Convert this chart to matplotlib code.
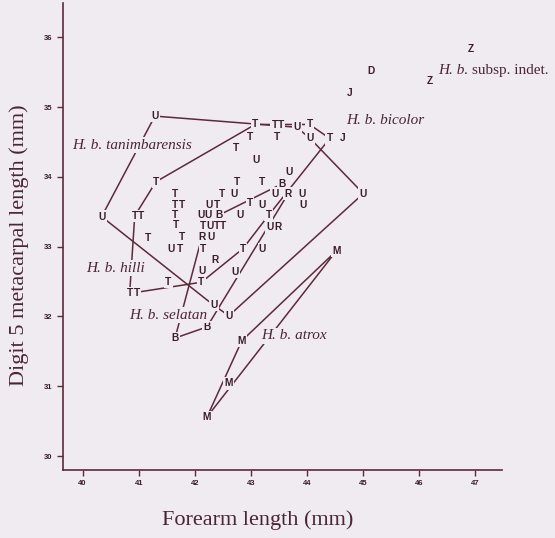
import matplotlib.pyplot as plt

# specimen codes and measurements (mm)
codes = ['Z', 'D', 'Z', 'J', 'J',
         'U', 'T', 'T', 'T', 'U', 'T', 'T', 'T', 'U', 'T', 'T', 'U', 'U',
         'T', 'T', 'T', 'B', 'T', 'T', 'U', 'U', 'R', 'U', 'U',
         'T', 'T', 'U', 'T', 'T', 'U', 'U',
         'U', 'T', 'T', 'T', 'U', 'U', 'B', 'U', 'T',
         'T', 'T', 'U', 'T', 'T', 'U', 'R',
         'T', 'T', 'R', 'U',
         'U', 'T', 'T', 'T', 'U', 'R', 'U', 'U', 'T', 'T', 'T', 'T',
         'U', 'U', 'B', 'B', 'M', 'M', 'M', 'M']
forearm = [46.93, 45.14, 46.19, 44.77, 44.64,
           41.29, 43.08, 43.43, 43.54, 43.82, 44.05, 42.99, 43.47, 44.06, 44.41, 42.73, 43.09, 43.68,
           41.31, 42.75, 43.21, 43.56, 41.65, 42.48, 42.70, 43.43, 43.67, 43.91, 45.01,
           41.65, 41.77, 42.25, 42.39, 42.99, 43.21, 43.93,
           40.34, 40.93, 41.04, 41.65, 42.12, 42.24, 42.43, 42.81, 43.32,
           41.66, 42.15, 42.27, 42.40, 42.50, 43.34, 43.48,
           41.17, 41.77, 42.13, 42.29,
           41.58, 41.74, 42.15, 42.86, 43.21, 42.36, 42.13, 42.72, 41.53, 42.12, 40.84, 40.97,
           42.34, 42.61, 42.22, 41.65, 44.53, 42.84, 42.60, 42.22]
digit5 = [35.83, 35.52, 35.37, 35.20, 34.55,
          34.87, 34.75, 34.74, 34.74, 34.71, 34.75, 34.57, 34.57, 34.55, 34.55, 34.41, 34.24, 34.07,
          33.93, 33.92, 33.92, 33.90, 33.76, 33.76, 33.76, 33.76, 33.76, 33.76, 33.76,
          33.60, 33.60, 33.60, 33.60, 33.62, 33.60, 33.60,
          33.43, 33.44, 33.44, 33.45, 33.45, 33.45, 33.45, 33.45, 33.45,
          33.31, 33.30, 33.30, 33.30, 33.30, 33.28, 33.28,
          33.13, 33.14, 33.14, 33.14,
          32.96, 32.96, 32.96, 32.97, 32.97, 32.81, 32.65, 32.64, 32.50, 32.49, 32.33, 32.33,
          32.16, 32.01, 31.85, 31.69, 32.94, 31.65, 31.04, 30.56]

# outlines around groups
u_hull_x = [41.29, 43.82, 44.06, 45.01, 42.61, 42.34, 40.34]
u_hull_y = [34.87, 34.71, 34.55, 33.76, 32.01, 32.16, 33.43]
t_hull_x = [41.31, 43.08, 44.05, 44.41, 43.32, 42.86, 42.12, 40.84, 40.93]
t_hull_y = [33.93, 34.75, 34.75, 34.55, 33.45, 32.97, 32.49, 32.33, 33.44]
b_hull_x = [41.65, 42.13, 42.43, 43.56, 43.67, 42.22]
b_hull_y = [31.69, 33.14, 33.45, 33.90, 33.76, 31.85]
m_hull_x = [44.53, 42.84, 42.22]
m_hull_y = [32.94, 31.65, 30.56]

# taxon labels
label_names = ['tanimbarensis', 'hilli', 'selatan', 'atrox', 'bicolor']
label_x = [39.81, 40.06, 40.84, 43.18, 44.70]
label_y = [34.455, 32.69, 32.02, 31.72, 34.81]

bg = '#efebf0'
line_col = '#5c2a3a'
ink = '#3a1c2a'
txt = '#4a2635'

fig = plt.figure(figsize=(5.55, 5.38), dpi=100, facecolor=bg)
ax = fig.add_axes([0.1135, 0.1264, 0.7905, 0.868], facecolor=bg)

for hx, hy in [(u_hull_x, u_hull_y), (t_hull_x, t_hull_y),
               (b_hull_x, b_hull_y), (m_hull_x, m_hull_y)]:
    ax.plot(hx + hx[:1], hy + hy[:1], color=line_col, lw=1.1, zorder=2)

# letters: first a pass of masks, then the glyphs on top
for c, x, y in zip(codes, forearm, digit5):
    ax.text(x, y, c, color=bg, fontsize=7.3, fontweight='bold', family='Liberation Sans',
            ha='center', va='center', zorder=3,
            bbox=dict(boxstyle='square,pad=0.12', fc=bg, ec='none'))
for c, x, y in zip(codes, forearm, digit5):
    ax.text(x, y, c, color=ink, fontsize=7.3, fontweight='bold', family='Liberation Sans',
            ha='center', va='center', zorder=4)

for name, x, y in zip(label_names, label_x, label_y):
    ax.text(x, y, 'H. b. ' + name, color=txt, fontsize=11, style='italic',
            family='Liberation Serif', ha='left', va='center', zorder=5,
            bbox=dict(boxstyle='square,pad=0.1', fc=bg, ec='none'))

t1 = ax.text(46.34, 35.53, 'H. b.', color=txt, fontsize=11, style='italic',
             family='Liberation Serif', ha='left', va='center', zorder=5)
ax.annotate('subsp. indet.', xy=(1, 0), xycoords=t1, xytext=(3, 0), textcoords='offset points',
            color=txt, fontsize=11, family='Liberation Serif', ha='left', va='bottom')

ax.set_xlim(39.65, 47.48)
ax.set_ylim(29.8, 36.49)
ax.set_xticks(range(40, 48))
ax.set_yticks(range(30, 37))
ax.tick_params(direction='out', length=4.5, width=1, color=line_col, labelsize=5.5,
               labelcolor=ink, pad=3)
for lab in ax.get_xticklabels() + ax.get_yticklabels():
    lab.set_fontweight('bold')
    lab.set_family('Liberation Sans')
for s in ['top', 'right']:
    ax.spines[s].set_visible(False)
for s in ['left', 'bottom']:
    ax.spines[s].set_color(line_col)
    ax.spines[s].set_linewidth(1.2)

fig.text(258 / 555, 0.0335, 'Forearm length (mm)', ha='center', va='center',
         fontsize=16, family='Liberation Serif', color=txt)
fig.text(19 / 555, 0.5446, 'Digit 5 metacarpal length (mm)', ha='center', va='center',
         rotation=90, fontsize=16, family='Liberation Serif', color=txt)

fig.savefig('out.png', dpi=100, facecolor=bg)
